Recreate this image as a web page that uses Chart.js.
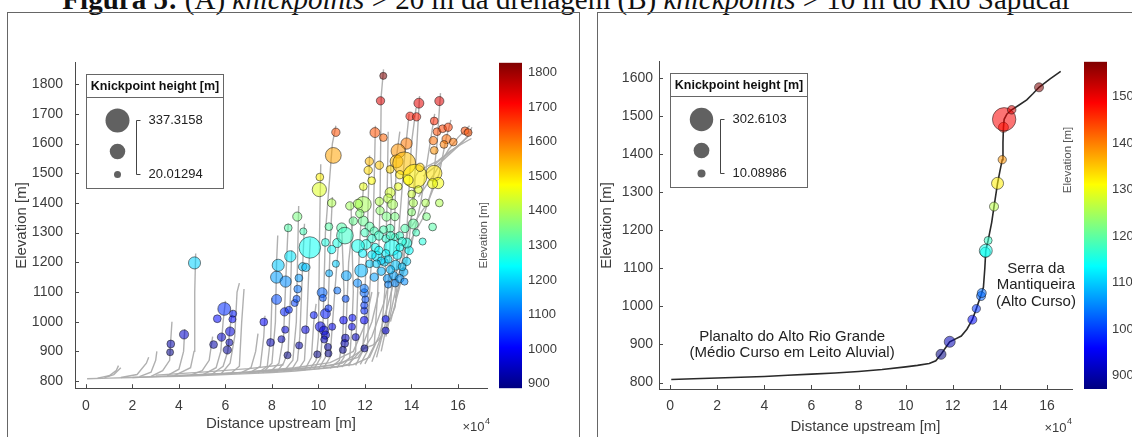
<!DOCTYPE html>
<html>
<head>
<meta charset="utf-8">
<script src="https://cdn.jsdelivr.net/npm/chart.js@4/dist/chart.umd.min.js"></script>
<style>
  body { margin: 0; width: 1132px; height: 437px; overflow: hidden; background: #fff; position: relative; }
  #title { position: absolute; left: 0; top: -15px; width: 1132px; text-align: center; white-space: nowrap;
           font: 29px/29px "Liberation Serif", "Times New Roman", serif; color: #111; }
  .frame { position: absolute; border: 1px solid #666; border-bottom: none; }
  canvas { position: absolute; }
</style>
</head>
<body>
<div id="title"><b>Figura 5:</b> (A) <i>knickpoints</i> &gt; 20 m da drenagem (B) <i>knickpoints</i> &gt; 10 m do Rio Sapucaí</div>
<div class="frame" style="left:7px;top:12px;width:571px;height:440px"></div>
<div class="frame" style="left:597px;top:12px;width:540px;height:440px"></div>
<canvas id="chartA" width="570" height="423" style="left:8px;top:14px"></canvas>
<canvas id="chartB" width="534" height="423" style="left:598px;top:14px"></canvas>
<script>
// distances are in units of 10^4 m (axis shows x10^4)

// tick values
const xTicks = [0, 2, 4, 6, 8, 10, 12, 14, 16];
const yTicksA = [800, 900, 1000, 1100, 1200, 1300, 1400, 1500, 1600, 1700, 1800];
const yTicksB = [800, 900, 1000, 1100, 1200, 1300, 1400, 1500, 1600];
const cbTicksA = [900, 1000, 1100, 1200, 1300, 1400, 1500, 1600, 1700, 1800];
const cbTicksB = [900, 1000, 1100, 1200, 1300, 1400, 1500];

// Rio Sapucai main profile
const rioDist = [0.05, 1, 2, 3, 4, 5, 6, 7, 8, 9,
  10, 10.5, 11, 11.28, 11.5, 11.7, 11.87, 12.1, 12.36, 12.6,
  12.83, 13.0, 13.2, 13.3, 13.36, 13.4, 13.45, 13.5, 13.65, 13.75,
  13.9, 14.0, 14.1, 14.13, 14.15, 14.18, 14.3, 14.5, 14.8, 15.14,
  15.4, 15.66, 16.13, 16.58];
const rioElev = [808, 810, 812, 814, 816, 819, 822, 825, 829, 834,
  841, 845, 850, 857, 874, 892, 907, 914, 922, 940,
  965, 994, 1030, 1050, 1100, 1146, 1160, 1173, 1220, 1262,
  1323, 1355, 1385, 1430, 1470, 1491, 1505, 1516, 1528, 1542,
  1558, 1575, 1597, 1617];

// (A) tributary profiles of the drainage
const tribDistA = [
  [2, 5, 8, 10, 11.5, 12.2, 12.6, 13.0, 13.4, 13.8],
  [4, 7, 9, 10.5, 11.7, 12.3, 12.8, 13.1],
  [6, 8, 10, 11, 11.8, 12.3, 12.6],
  [7, 9, 10.5, 11.5, 12.0, 12.3],
  [3, 5, 7, 8.5],
  [0.5, 1.0, 1.3, 1.4],
  [0.8, 1.2, 1.5],
  [1.5, 2.2, 2.6, 2.7],
  [2.3, 2.8, 3.0, 3.05],
  [2.8, 3.3, 3.6, 3.65, 3.7],
  [3.5, 4.0, 4.2, 4.25],
  [3.8, 4.5, 4.65, 4.68, 4.72],
  [4.5, 5.0, 5.3, 5.45],
  [5.0, 5.6, 5.8, 5.9, 6.0],
  [5.4, 5.9, 6.1, 6.2, 6.3],
  [5.8, 6.2, 6.4, 6.5, 6.6],
  [6.2, 6.6, 6.7, 6.8],
  [6.6, 7.1, 7.3, 7.4],
  [7.0, 7.5, 7.65, 7.7],
  [7.4, 7.8, 7.95, 8.0],
  [7.6, 8.0, 8.15, 8.2, 8.25],
  [7.9, 8.3, 8.5, 8.6, 8.7],
  [8.2, 8.5, 8.7, 8.8, 8.85],
  [8.5, 8.9, 9.05, 9.1, 9.15],
  [8.8, 9.1, 9.2, 9.3, 9.4],
  [9.1, 9.4, 9.5, 9.6, 9.65],
  [9.4, 9.7, 9.8, 9.9],
  [9.6, 9.9, 10.0, 10.05, 10.1],
  [9.8, 10.1, 10.2, 10.3, 10.6, 10.75],
  [10.0, 10.3, 10.4, 10.5, 10.6],
  [10.2, 10.5, 10.6, 10.8, 10.9],
  [10.5, 10.9, 11.05, 11.1, 11.0],
  [10.8, 11.1, 11.2, 11.3, 11.5],
  [11.0, 11.35, 11.45, 11.5, 11.4],
  [11.3, 11.6, 11.7, 11.8, 11.95],
  [11.6, 11.9, 11.98, 12.0, 12.1, 12.2],
  [11.8, 12.1, 12.2, 12.35, 12.45],
  [12.0, 12.4, 12.55, 12.65, 12.7, 12.8],
  [12.3, 12.7, 12.85, 12.95, 13.0],
  [12.5, 12.9, 13.05, 13.15, 13.1],
  [12.7, 13.1, 13.25, 13.35, 13.5],
  [12.9, 13.3, 13.5, 13.7, 13.9],
  [13.1, 13.6, 13.8, 14.0, 14.2],
  [13.3, 13.8, 14.0, 14.2, 14.35],
  [13.5, 14.0, 14.4, 14.7, 15.0],
  [13.8, 14.5, 14.9, 15.1, 15.25],
  [14.0, 14.7, 15.2, 15.5, 15.7],
  [14.3, 15.0, 15.6, 16.0, 16.5],
  [14.5, 15.3, 16.0, 16.6],
  [15.0, 15.8, 16.4, 16.6]
];
const tribElevA = [
  [812, 822, 832, 842, 856, 880, 950, 1060, 1180, 1280],
  [818, 830, 840, 852, 880, 950, 1060, 1150],
  [826, 836, 848, 860, 900, 1000, 1100],
  [832, 845, 862, 900, 990, 1100],
  [820, 830, 842, 855],
  [810, 818, 835, 852],
  [812, 822, 845],
  [812, 822, 860, 880],
  [815, 830, 870, 900],
  [816, 835, 870, 940, 1000],
  [818, 840, 900, 975],
  [818, 845, 900, 1100, 1230],
  [820, 835, 870, 950],
  [820, 845, 900, 1000, 1070],
  [822, 850, 900, 980, 1040],
  [823, 860, 950, 1100, 1130],
  [824, 850, 1000, 1110],
  [825, 845, 900, 960],
  [826, 850, 950, 1020],
  [827, 850, 950, 1080],
  [828, 860, 1000, 1200, 1290],
  [829, 860, 950, 1150, 1330],
  [830, 860, 900, 1100, 1240],
  [832, 870, 1000, 1200, 1390],
  [833, 870, 950, 1150, 1330],
  [835, 870, 1000, 1200, 1280],
  [836, 880, 1000, 1060],
  [838, 870, 950, 1300, 1530],
  [839, 880, 1000, 1300, 1600, 1660],
  [840, 880, 1000, 1250, 1420],
  [841, 880, 990, 1200, 1300],
  [843, 870, 950, 1100, 1320],
  [845, 880, 1000, 1200, 1350],
  [847, 880, 1000, 1100, 1400],
  [850, 900, 1130, 1300, 1470],
  [853, 900, 1000, 1100, 1300, 1560],
  [856, 900, 1100, 1300, 1660],
  [858, 920, 1100, 1400, 1760, 1850],
  [865, 950, 1100, 1400, 1640],
  [880, 1000, 1200, 1450, 1530],
  [900, 1050, 1250, 1550, 1640],
  [950, 1100, 1350, 1550, 1700],
  [1000, 1150, 1300, 1600, 1720],
  [1080, 1200, 1350, 1550, 1760],
  [1150, 1260, 1400, 1550, 1700],
  [1250, 1350, 1450, 1600, 1770],
  [1320, 1400, 1500, 1620, 1680],
  [1420, 1500, 1580, 1620, 1660],
  [1490, 1540, 1590, 1640],
  [1530, 1580, 1620, 1655]
];

// (A) knickpoints > 20 m: distance, elevation [m], knickpoint height [m]
const kpDistA = [4.67, 4.22, 3.65, 3.62, 5.95, 5.65, 6.33, 6.30, 6.20, 5.83,
  5.49, 6.17, 6.08, 7.65, 7.94, 8.41, 8.57, 8.67, 9.17, 9.44,
  9.80, 10.16, 10.19, 10.08, 10.24, 10.30, 10.25, 9.95, 10.41, 10.43,
  10.30, 10.43, 10.59, 10.81, 11.08, 11.16, 11.13, 11.05, 11.17, 11.46,
  11.44, 11.60, 11.98, 11.97, 11.97, 11.97, 12.02, 11.97, 12.89, 12.89,
  8.20, 8.54, 8.73, 8.98, 9.06, 9.11, 9.16, 8.20, 8.27, 8.59,
  8.79, 9.32, 9.46, 9.63, 10.46, 10.75, 11.20, 11.68, 11.84, 11.97,
  12.97, 13.00, 13.24, 13.32, 13.67, 13.79, 13.90, 13.80, 14.48, 13.16,
  12.52, 12.05, 11.70, 12.20, 12.84, 12.44, 10.57, 10.81, 10.30, 13.29,
  12.79, 12.67, 14.32, 15.20, 13.94, 14.22, 14.98, 10.75, 12.43, 12.79,
  15.10, 15.34, 15.58, 16.30, 16.44, 14.94, 15.51, 15.40, 15.80, 13.79,
  13.43, 14.98, 10.64, 13.36, 13.69, 12.19, 12.62, 12.14, 10.06, 13.08,
  13.50, 14.15, 14.37, 14.97, 15.15, 14.91, 12.29, 11.93, 10.04, 13.43,
  13.86, 10.57, 11.35, 11.93, 11.70, 12.62, 13.08, 13.00, 13.19, 14.08,
  14.61, 15.20, 14.01, 14.30, 8.70, 9.09, 9.35, 11.00, 11.50, 12.65,
  12.93, 13.29, 14.01, 14.65, 14.91, 11.93, 11.78, 13.72, 13.08, 14.08,
  11.14, 12.20, 12.40, 12.60, 12.80, 12.30, 12.00, 12.90, 13.10, 13.50,
  13.60, 12.60, 12.90, 13.40, 13.00, 12.70, 13.50, 14.20, 11.90, 12.30,
  12.50, 13.60, 13.10, 12.70, 12.40, 13.30, 13.50, 13.70, 10.45];
const kpElevA = [1198, 957, 925, 897, 1043, 1010, 1027, 1008, 967, 948,
  923, 930, 905, 999, 930, 941, 973, 887, 920, 973,
  1022, 1098, 1080, 983, 970, 955, 940, 890, 915, 893,
  1027, 1045, 983, 1105, 1005, 945, 927, 905, 1077, 1013,
  983, 948, 910, 1005, 1037, 1055, 1075, 1097, 1009, 970,
  1075, 1033, 1040, 1063, 1077, 1110, 1147, 1150, 1190, 1135,
  1220, 1185, 1183, 1250, 1163, 1195, 1155, 1130, 1172, 1112,
  1145, 1125, 1155, 1190, 1167, 1203, 1240, 1265, 1270, 1250,
  1220, 1260, 1255, 1195, 1200, 1250, 1243, 1265, 1267, 1285,
  1828, 1744, 1736, 1743, 1692, 1690, 1676, 1638, 1637, 1620,
  1640, 1650, 1655, 1643, 1637, 1610, 1615, 1597, 1605, 1600,
  1575, 1577, 1560, 1540, 1533, 1540, 1527, 1510, 1487, 1513,
  1495, 1490, 1520, 1500, 1467, 1465, 1475, 1455, 1445, 1455,
  1477, 1400, 1390, 1395, 1397, 1405, 1435, 1415, 1395, 1400,
  1400, 1400, 1430, 1445, 1316, 1354, 1304, 1316, 1339, 1374,
  1354, 1354, 1369, 1354, 1319, 1339, 1364, 1314, 1314, 1329,
  1290, 1320, 1305, 1290, 1310, 1280, 1300, 1280, 1290, 1290,
  1270, 1240, 1230, 1225, 1210, 1205, 1250, 1300, 1230, 1225,
  1195, 1185, 1175, 1170, 1150, 1130, 1145, 1135, 1320];
const kpHeightA = [115, 60, 35, 20.01294, 130, 35, 22, 22, 60, 45,
  35, 22, 45, 35, 35, 22, 22, 22, 22, 35,
  22, 75, 22, 75, 60, 45, 22, 22, 22, 22,
  75, 22, 22, 22, 35, 35, 35, 22, 22, 22,
  22, 22, 22, 35, 22, 22, 22, 45, 22, 22,
  75, 45, 22, 22, 22, 35, 35, 115, 115, 100,
  100, 45, 45, 290, 22, 22, 75, 45, 130, 45,
  45, 22, 45, 75, 45, 45, 45, 75, 22, 185,
  75, 75, 130, 35, 35, 45, 45, 60, 35, 22,
  22, 45, 75, 60, 45, 45, 35, 45, 75, 35,
  35, 35, 45, 35, 35, 45, 60, 35, 35, 100,
  155, 35, 185, 130, 320, 45, 45, 45, 35, 35,
  45, 337.3158, 45, 185, 100, 75, 35, 35, 155, 35,
  75, 45, 45, 185, 60, 45, 75, 60, 75, 45,
  35, 35, 35, 35, 35, 60, 22, 75, 45, 45,
  60, 45, 35, 35, 35, 75, 45, 45, 45, 75,
  200, 60, 45, 60, 35, 45, 45, 35, 45, 35,
  45, 45, 35, 60, 35, 35, 35, 22, 45, 45,
  35, 35, 45, 45, 45, 35, 45, 22, 35];

// (B) knickpoints > 10 m along Rio Sapucai
const kpDistB = [11.5, 11.87, 12.83, 13.0, 13.2, 13.23, 13.38, 13.4, 13.5, 13.75, 13.9, 14.1, 14.15, 14.18, 14.5, 15.66];
const kpElevB = [874, 907, 965, 994, 1027, 1035, 1142, 1146, 1173, 1262, 1323, 1385, 1470, 1491, 1516, 1575];
const kpHeightB = [48, 67, 29, 15, 29, 29, 48, 105, 10.08986, 29, 86, 15, 48, 302.6103, 20, 29];

// colour bar limits and legend labels
const cbRangeA = [887, 1828];
const cbRangeB = [871, 1575];
const legendLabelsA = ['337.3158', '20.01294'];
const legendLabelsB = ['302.6103', '10.08986'];

// text notes of panel B (x, elevation, text)
const noteX = [5.18, 5.18, 15.53, 15.53, 15.53];
const noteY = [919, 877, 1099, 1056, 1013];
const noteText = ['Planalto do Alto Rio Grande', '(Médio Curso em Leito Aluvial)', 'Serra da', 'Mantiqueira', '(Alto Curso)'];

const FONT = '"Liberation Sans", Arial, Helvetica, sans-serif';
const TXT = '#3c3c3c';
const AXIS = '#4a4a4a';
Chart.defaults.font.family = FONT;
Chart.defaults.color = TXT;

function jet(t, a) {
  t = Math.min(1, Math.max(0, t));
  const f = v => Math.round(Math.min(1, Math.max(0, v)) * 255);
  return `rgba(${f(1.5 - Math.abs(4 * t - 3))},${f(1.5 - Math.abs(4 * t - 2))},${f(1.5 - Math.abs(4 * t - 1))},${a})`;
}

const hMinA = 20.01294, hMaxA = 337.3158, hMinB = 10.08986, hMaxB = 302.6103;
const sizeA = h => 3.5 + (h - hMinA) / (hMaxA - hMinA) * 8.5;
const sizeB = h => 4 + (h - hMinB) / (hMaxB - hMinB) * 7.7;

function makeExtras(cfg) {
  return {
    id: 'extras' + cfg.key,
    afterDraw(chart) {
      const ctx = chart.ctx, ca = chart.chartArea;
      const sx = chart.scales.x, sy = chart.scales.y, cb = chart.scales.cb;
      ctx.save();
      // inward tick marks
      ctx.strokeStyle = AXIS;
      ctx.lineWidth = 1;
      ctx.beginPath();
      sx.ticks.forEach(t => {
        const p = Math.round(sx.getPixelForValue(t.value)) + 0.5;
        ctx.moveTo(p, ca.bottom); ctx.lineTo(p, ca.bottom - 4);
      });
      sy.ticks.forEach(t => {
        const p = Math.round(sy.getPixelForValue(t.value)) + 0.5;
        ctx.moveTo(ca.left, p); ctx.lineTo(ca.left + 4, p);
      });
      ctx.stroke();

      // colour bar
      const x0 = ca.right + 12;
      const g = ctx.createLinearGradient(0, cb.bottom, 0, cb.top);
      for (let i = 0; i <= 16; i++) g.addColorStop(i / 16, jet(i / 16, 1));
      ctx.fillStyle = g;
      ctx.fillRect(x0, cb.top, 23, cb.bottom - cb.top);

      ctx.save();
      ctx.translate(ca.right + cfg.cbLabelDx, ca.top + cfg.cbLabelFy * (ca.bottom - ca.top));
      ctx.rotate(-Math.PI / 2);
      ctx.font = '11.5px ' + FONT;
      ctx.fillStyle = '#555';
      ctx.textAlign = 'center';
      ctx.textBaseline = 'middle';
      ctx.fillText('Elevation [m]', 0, 0);
      ctx.restore();

      // x10^4 exponent label
      ctx.fillStyle = TXT;
      ctx.textAlign = 'right';
      ctx.textBaseline = 'middle';
      const xr = ca.right + cfg.expDx, yb = ca.bottom + 39;
      ctx.font = '9px ' + FONT;
      const w4 = ctx.measureText('4').width;
      ctx.fillText('4', xr, yb - 6);
      ctx.font = '13px ' + FONT;
      ctx.fillText('\u00d710', xr - w4 - 0.5, yb);

      // notes
      ctx.font = '15px ' + FONT;
      ctx.fillStyle = '#222';
      ctx.textAlign = 'center';
      cfg.notes.forEach(n => ctx.fillText(n[2], sx.getPixelForValue(n[0]), sy.getPixelForValue(n[1])));

      // bubble size legend
      const bx = Math.round(ca.left + 11) + 0.5, by = Math.round(ca.top + 11) + 0.5, bw = 137, bh = 114;
      ctx.fillStyle = '#fff';
      ctx.fillRect(bx, by, bw, bh);
      ctx.strokeStyle = '#666';
      ctx.strokeRect(bx, by, bw, bh);
      ctx.beginPath();
      ctx.moveTo(bx, by + 23); ctx.lineTo(bx + bw, by + 23);
      ctx.stroke();
      ctx.fillStyle = '#111';
      ctx.font = 'bold 12.5px ' + FONT;
      ctx.textAlign = 'center';
      ctx.fillText('Knickpoint height [m]', bx + bw / 2, by + 12);
      const vals = [cfg.hMax, (cfg.hMax + cfg.hMin) / 2, cfg.hMin];
      const ys = [46, 77, 100];
      ctx.fillStyle = '#616161';
      vals.forEach((v, i) => {
        ctx.beginPath();
        ctx.arc(bx + 31, by + ys[i], cfg.size(v), 0, Math.PI * 2);
        ctx.fill();
      });
      ctx.strokeStyle = '#444';
      ctx.beginPath();
      ctx.moveTo(bx + 54, by + 46); ctx.lineTo(bx + 50, by + 46);
      ctx.lineTo(bx + 50, by + 100); ctx.lineTo(bx + 54, by + 100);
      ctx.stroke();
      ctx.fillStyle = '#222';
      ctx.font = '13px ' + FONT;
      ctx.textAlign = 'left';
      ctx.fillText(cfg.labels[0], bx + 62, by + 46);
      ctx.fillText(cfg.labels[1], bx + 62, by + 100);
      ctx.restore();
    }
  };
}

const plain = v => String(v);
const fixedTicks = vals => s => { s.ticks = vals.map(v => ({ value: v })); };

function scalesFor(p) {
  return {
    x: {
      type: 'linear', min: p.xMin, max: p.xMax,
      afterFit: s => { s.height = p.xH; },
      afterBuildTicks: fixedTicks(xTicks),
      ticks: { autoSkip: false, callback: plain, padding: p.xPad, font: { size: 14 }, color: TXT, maxRotation: 0 },
      grid: { display: false, drawTicks: false },
      border: { color: AXIS, width: 1 },
      title: { display: true, text: 'Distance upstream [m]', font: { size: 15 }, color: TXT, padding: { top: 0, bottom: p.xTitlePad } }
    },
    y: {
      type: 'linear', min: p.yMin, max: p.yMax,
      afterFit: s => { s.width = p.yW; },
      afterBuildTicks: fixedTicks(p.yTicks),
      ticks: { autoSkip: false, callback: plain, padding: p.yPad, font: { size: 14 }, color: TXT },
      grid: { display: false, drawTicks: false },
      border: { color: AXIS, width: 1 },
      title: { display: true, text: 'Elevation [m]', font: { size: 15 }, color: TXT, padding: { top: p.yTitlePad, bottom: 0 } }
    },
    cb: {
      type: 'linear', position: 'right', min: p.cb[0], max: p.cb[1],
      afterFit: s => { s.width = p.cbW; },
      afterBuildTicks: fixedTicks(p.cbTicks),
      ticks: { autoSkip: false, callback: plain, padding: p.cbPad, font: { size: 13 }, color: TXT },
      grid: { display: false, drawTicks: false },
      border: { display: false }
    }
  };
}

function bubbleSet(dist, elev, height, size, range) {
  return {
    type: 'bubble',
    data: dist.map((d, i) => ({ x: d, y: elev[i], r: size(height[i]) })),
    backgroundColor: c => c.raw ? jet((c.raw.y - range[0]) / (range[1] - range[0]), 0.55) : '#888',
    borderColor: 'rgba(25,25,25,0.55)',
    borderWidth: 1,
    order: 0
  };
}

function lineSet(dist, elev, color, width) {
  return {
    type: 'scatter', showLine: true,
    data: dist.map((d, i) => ({ x: d, y: elev[i] })),
    borderColor: color, borderWidth: width, pointRadius: 0, tension: 0, fill: false,
    order: 1
  };
}

const commonOptions = {
  responsive: false, animation: false, events: [],
  plugins: { legend: { display: false }, tooltip: { enabled: false } }
};

// (A) drainage knickpoints
const GRAY = 'rgba(172,172,172,0.95)';
const setsA = [bubbleSet(kpDistA, kpElevA, kpHeightA, sizeA, cbRangeA), lineSet(rioDist, rioElev, GRAY, 1.4)];
tribDistA.forEach((d, i) => setsA.push(lineSet(d, tribElevA[i], GRAY, 1.4)));

new Chart(document.getElementById('chartA'), {
  type: 'bubble',
  data: { datasets: setsA },
  options: Object.assign({}, commonOptions, {
    layout: { padding: { top: 14, left: 0, right: 0, bottom: 0 }, autoPadding: false },
    scales: scalesFor({ xMin: -0.47, xMax: 17.25, yMin: 776, yMax: 1872, xH: 45, yW: 67, cbW: 91,
      xPad: 10, yPad: 12, cbPad: 41, xTitlePad: 0, yTitlePad: 5, cb: cbRangeA,
      yTicks: yTicksA, cbTicks: cbTicksA })
  }),
  plugins: [makeExtras({ key: 'A', cbLabelDx: -3, cbLabelFy: 0.53, expDx: 3, notes: [],
    hMin: hMinA, hMax: hMaxA, size: sizeA, labels: legendLabelsA })]
});

// (B) Rio Sapucai knickpoints
const notesB = noteText.map((t, i) => [noteX[i], noteY[i], t]);
new Chart(document.getElementById('chartB'), {
  type: 'bubble',
  data: { datasets: [bubbleSet(kpDistB, kpElevB, kpHeightB, sizeB, cbRangeB), lineSet(rioDist, rioElev, '#2a2a2a', 1.6)] },
  options: Object.assign({}, commonOptions, {
    layout: { padding: { top: 10, left: 0, right: 0, bottom: 0 }, autoPadding: false },
    scales: scalesFor({ xMin: -0.47, xMax: 17.06, yMin: 783, yMax: 1642, xH: 48, yW: 61, cbW: 60,
      xPad: 9, yPad: 6, cbPad: 40, xTitlePad: 1, yTitlePad: 0, cb: cbRangeB,
      yTicks: yTicksB, cbTicks: cbTicksB })
  }),
  plugins: [makeExtras({ key: 'B', cbLabelDx: -4, cbLabelFy: 0.30, expDx: 0, notes: notesB,
    hMin: hMinB, hMax: hMaxB, size: sizeB, labels: legendLabelsB })]
});
</script>
</body>
</html>
